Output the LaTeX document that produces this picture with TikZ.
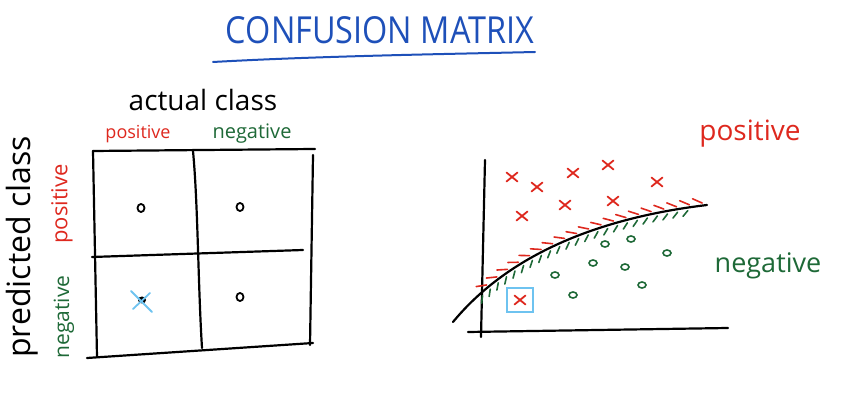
\documentclass[tikz,border=0pt]{standalone}
\usepackage{fontspec}
\setmainfont{Open Sans}
\usetikzlibrary{decorations.markings}
\definecolor{tblue}{RGB}{30,80,185}
\definecolor{redc}{RGB}{222,40,30}
\definecolor{greenc}{RGB}{30,105,55}
\definecolor{lblue}{RGB}{110,195,240}
\tikzset{
  ink/.style={line width=2.2pt, line cap=round, black},
  xm/.pic={\draw[redc, line width=1.8pt, line cap=round] (-5.5pt,-4.5pt)--(5.5pt,4.5pt) (-5.5pt,4.5pt)--(5.5pt,-4.5pt);},
  om/.pic={\draw[greenc, line width=1.6pt] (0,0) ellipse (4pt and 3pt);},
  bo/.pic={\draw[black, line width=1.8pt] (0,0) ellipse (3.5pt and 4pt);},
  lbl/.style={inner sep=0pt, anchor=center}
}
\begin{document}
\begin{tikzpicture}[x=1pt,y=1pt]
\useasboundingbox (0,0) rectangle (849,404);
% title
\node[lbl, text=tblue] (title) at (380,374) {\resizebox{308pt}{27pt}{CONFUSION MATRIX}};
\coordinate (ul1) at (213,342);
\coordinate (ul2) at (535,352);
\draw[tblue, line width=2pt, line cap=round] (ul1) .. controls (320,348) and (450,350) .. (ul2);
% left matrix
\node[lbl] (actual) at (203,304) {\fontsize{28}{30}\selectfont actual class};
\node[lbl, text=redc] (apos) at (138,270) {\fontsize{18}{20}\selectfont positive};
\node[lbl, text=greenc] (aneg) at (252,270) {\fontsize{20}{22}\selectfont negative};
\node[lbl, rotate=90] (pred) at (22,157) {\fontsize{32}{34}\selectfont predicted class};
\node[lbl, rotate=90, text=redc] (ppos) at (62,200) {\fontsize{22}{24}\selectfont positive};
\node[lbl, rotate=90, text=greenc] (pneg) at (64,87) {\fontsize{21}{23}\selectfont negative};
\coordinate (tl) at (93,253);
\coordinate (tr) at (315,255);
\coordinate (tm) at (193,253);
\coordinate (ml) at (92,147);
\coordinate (mr) at (303,154);
\coordinate (bl) at (87,46);
\coordinate (br) at (313,61);
\coordinate (lb) at (97,47);
\coordinate (mb) at (202,56);
\coordinate (rt) at (313,249);
\coordinate (rb) at (310,59);
\draw[ink] (tl) -- (tr);
\draw[ink] (tl) -- (lb);
\draw[ink] (tm) .. controls (198,200) and (198,120) .. (mb);
\draw[ink] (rt) -- (rb);
\draw[ink] (ml) -- (mr);
\draw[ink] (bl) -- (br);
\pic at (141,196) {bo};
\pic at (240,197) {bo};
\pic at (240,107) {bo};
\fill (142,104) ellipse (4pt and 3.5pt);
\draw[lblue, line width=1.8pt, line cap=round] (131,113) -- (152,92) (133,95) -- (150,111);
% right plot
\coordinate (ya) at (485,244);
\coordinate (yb) at (481,67);
\coordinate (xa) at (468,72);
\coordinate (xb) at (728,76);
\draw[ink] (ya) -- (yb);
\draw[ink] (xa) -- (xb);
\coordinate (c0) at (453,82);
\coordinate (c1) at (707,199);
\draw[ink,
  postaction={decorate, decoration={markings,
    mark=between positions 0.16 and 0.97 step 0.045 with {\draw[redc, line width=1.6pt, line cap=round] (-5pt,8pt) -- (4pt,2.5pt);}}},
  postaction={decorate, decoration={markings,
    mark=between positions 0.14 and 0.95 step 0.036 with {\draw[greenc, line width=1.6pt, line cap=round] (-6pt,-8pt) -- (-0.5pt,-3pt);}}}]
  (c0) .. controls (505,145) and (590,185) .. (c1);
\foreach \p in {(512,227),(537,217),(573,231),(608,239),(657,222),(522,188),(565,199),(613,203),(520,104)}
  \pic at \p {xm};
\foreach \p in {(605,160),(631,165),(667,151),(593,141),(625,137),(555,129),(573,109),(642,119)}
  \pic at \p {om};
\draw[lblue, line width=1.8pt] (507,92) rectangle (533,116);
\node[lbl, text=redc] (rpos) at (750,270) {\fontsize{28}{30}\selectfont positive};
\node[lbl, text=greenc] (rneg) at (768,138) {\fontsize{27}{29}\selectfont negative};
\end{tikzpicture}
\end{document}
